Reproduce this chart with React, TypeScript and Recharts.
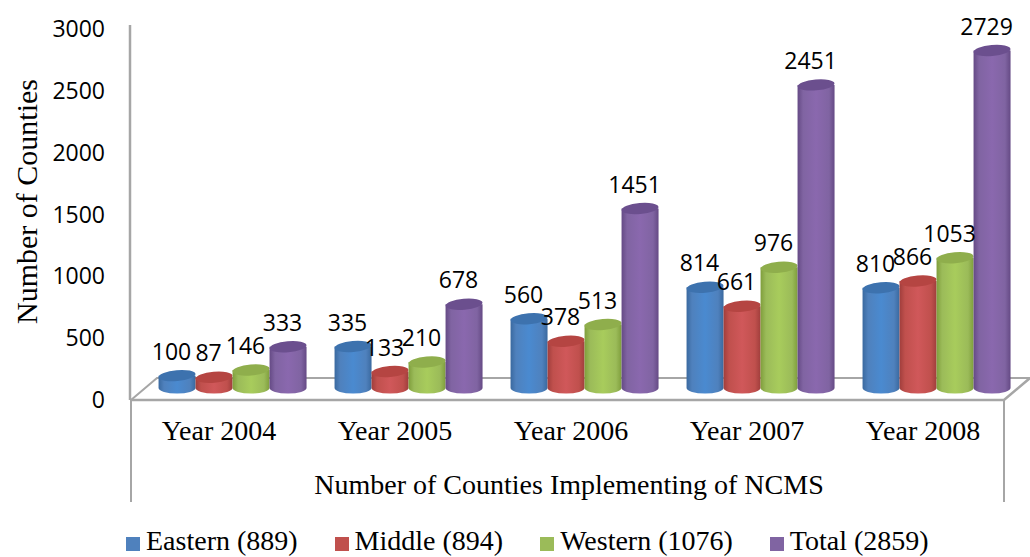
import React from "react";
import { BarChart, Bar, XAxis, YAxis, Legend, LabelList } from "recharts";

const categories = ["Year 2004", "Year 2005", "Year 2006", "Year 2007", "Year 2008"];
const eastern = [100, 335, 560, 814, 810];
const middle = [87, 133, 378, 661, 866];
const western = [146, 210, 513, 976, 1053];
const total = [333, 678, 1451, 2451, 2729];
const yTicks = [0, 500, 1000, 1500, 2000, 2500, 3000];

const seriesDefs = [
  { key: "eastern", name: "Eastern (889)", color: "#4f81bd", dark: "#3a699f", light: "#4a8ad0", top: "#3d72ae" },
  { key: "middle", name: "Middle (894)", color: "#c0504d", dark: "#a03e3c", light: "#d0585a", top: "#b54542" },
  { key: "western", name: "Western (1076)", color: "#9bbb59", dark: "#7f9e3c", light: "#a8cc5c", top: "#8fae4c" },
  { key: "total", name: "Total (2859)", color: "#8064a2", dark: "#654a85", light: "#8a68ae", top: "#6b4f8e" },
];

const data = categories.map((c, i) => ({
  category: c,
  eastern: eastern[i],
  middle: middle[i],
  western: western[i],
  total: total[i],
}));

const DX = 14;
const DY = -12;
const RY = 5.5;

const Cylinder = (props: any) => {
  const { x, y, width, height, seriesKey } = props;
  const x0 = x + DX;
  const w = width;
  const top = y + DY;
  const bottom = y + height + DY;
  const rx = w / 2;
  const cx = x0 + rx;
  const def = seriesDefs.find((s) => s.key === seriesKey)!;
  return (
    <g>
      <path
        d={`M${x0},${top} L${x0},${bottom} A${rx},${RY} 0 0 0 ${x0 + w},${bottom} L${x0 + w},${top} Z`}
        fill={`url(#grad-${seriesKey})`}
      />
      <ellipse cx={cx} cy={top} rx={rx} ry={RY} fill={def.top} transform={`rotate(-5 ${cx} ${top})`} />
    </g>
  );
};

const ValueLabel = (props: any) => {
  const { x, y, width, value } = props;
  return (
    <text
      x={x + DX + width / 2 - 5.5}
      y={y + DY - 16}
      textAnchor="middle"
      fontFamily="'Open Sans', sans-serif"
      fontSize={23}
      fill="#000"
    >
      {value}
    </text>
  );
};

const Floor = () => (
  <g fill="none" stroke="#a6a6a6" strokeWidth={2.5}>
    <path d="M131,400 L157,378 L1030,378" strokeWidth={2} />
    <path d="M131,400 L1004,400 L1030,378" />
    <path d="M131,400 L131,502 M1004,400 L1004,502" strokeWidth={2} />
    <path d="M130,25 L130,400" />
  </g>
);

const LegendContent = () => (
  <div
    style={{
      position: "absolute",
      left: 126,
      top: -2,
      display: "flex",
      whiteSpace: "nowrap",
      fontFamily: "'Liberation Serif', serif",
      fontSize: 28,
      lineHeight: "32px",
      color: "#000",
    }}
  >
    {seriesDefs.map((s) => (
      <span key={s.key} style={{ display: "flex", alignItems: "center", marginRight: 37 }}>
        <span style={{ width: 14, height: 14, background: s.color, marginRight: 6, marginTop: 5 }} />
        {s.name}
      </span>
    ))}
  </div>
);

export default function App() {
  return (
    <div style={{ position: "absolute", left: 0, top: 0, width: 1030, height: 557, background: "#fff" }}>
      <BarChart
        width={1030}
        height={557}
        data={data}
        margin={{ top: 29, right: 19, bottom: 0, left: 0 }}
        barCategoryGap="7.7%"
        barGap={0}
      >
        <defs>
          {seriesDefs.map((s) => (
            <linearGradient key={s.key} id={`grad-${s.key}`} x1="0" x2="1" y1="0" y2="0">
              <stop offset="0" stopColor={s.dark} />
              <stop offset="0.15" stopColor={s.color} />
              <stop offset="0.5" stopColor={s.light} />
              <stop offset="0.85" stopColor={s.color} />
              <stop offset="1" stopColor={s.dark} />
            </linearGradient>
          ))}
        </defs>
        <Floor />
        <XAxis
          dataKey="category"
          axisLine={false}
          tickLine={false}
          height={127}
          tickMargin={14}
          interval={0}
          tick={{ fontFamily: "'Liberation Serif', serif", fontSize: 28, fill: "#000" }}
          label={{
            value: "Number of Counties Implementing of NCMS",
            position: "insideTop",
            offset: 74,
            dx: -2,
            fontFamily: "'Liberation Serif', serif",
            fontSize: 28,
            fill: "#000",
          }}
        />
        <YAxis
          width={131}
          domain={[0, 3000]}
          ticks={yTicks}
          axisLine={false}
          tickLine={false}
          tickMargin={20}
          tick={{ fontFamily: "'Open Sans', sans-serif", fontSize: 23, fill: "#000" }}
          label={{
            value: "Number of Counties",
            angle: -90,
            position: "insideLeft",
            offset: 26,
            dy: -13,
            fontFamily: "'Liberation Serif', serif",
            fontSize: 30,
            fill: "#000",
            style: { textAnchor: "middle" },
          }}
        />
        <Legend verticalAlign="bottom" height={30} content={<LegendContent />} />
        {seriesDefs.map((s) => (
          <Bar
            key={s.key}
            dataKey={s.key}
            name={s.name}
            fill={s.color}
            isAnimationActive={false}
            shape={(p: any) => <Cylinder {...p} seriesKey={s.key} />}
          >
            <LabelList dataKey={s.key} content={<ValueLabel />} />
          </Bar>
        ))}
      </BarChart>
    </div>
  );
}
